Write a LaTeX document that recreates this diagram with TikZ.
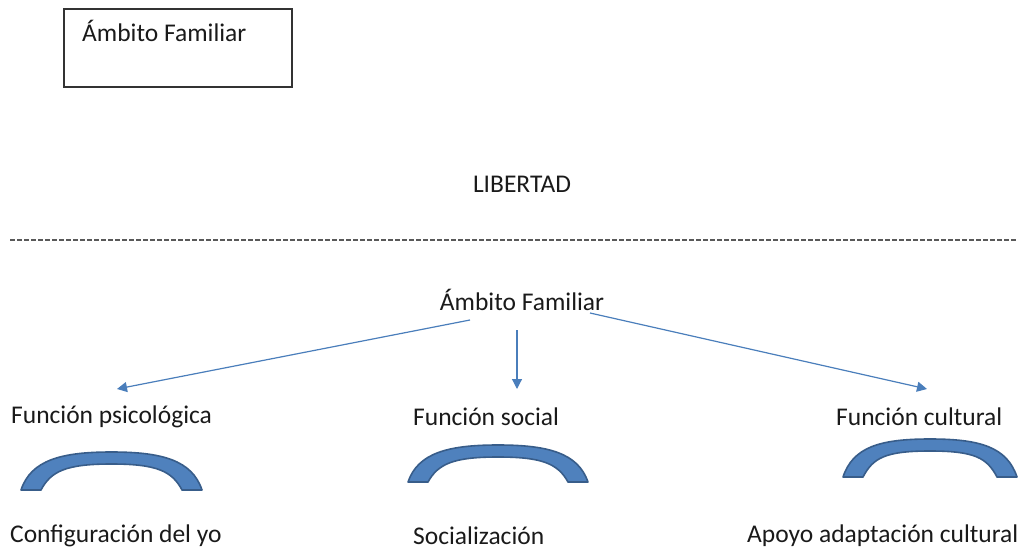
\documentclass[tikz,border=0pt]{standalone}
\usepackage{fontspec}
\setmainfont{Carlito}
\usetikzlibrary{arrows.meta}
\definecolor{arcfill}{HTML}{4F81BD}
\definecolor{arcline}{HTML}{385D8A}
\definecolor{arrowc}{HTML}{4A7EBB}
\definecolor{txt}{HTML}{1A1A1A}
\tikzset{
  lbl/.style={font=\fontsize{25.5}{30}\selectfont, text=txt, inner sep=0pt},
  conn/.style={draw=arrowc, line width=1.2pt, -{Triangle[length=10pt,width=10pt]}},
  arcshape/.style={fill=arcfill, draw=arcline, line width=1.6pt, line join=round}
}
\newcommand{\blockarc}[4]{% x0 x1 ytop ybottom
  \pgfmathsetmacro{\xa}{#1}\pgfmathsetmacro{\xb}{#2}
  \pgfmathsetmacro{\yt}{#3}\pgfmathsetmacro{\yb}{#4}
  \pgfmathsetmacro{\xc}{(\xa+\xb)/2}
  \path[arcshape] (\xa,\yb) .. controls (\xa+10,\yt+8) and (\xc-50,\yt) .. (\xc,\yt)
    .. controls (\xc+50,\yt) and (\xb-10,\yt+8) .. (\xb,\yb)
    -- (\xb-20,\yb) .. controls (\xb-30,\yt+19) and (\xc+45,\yt+12) .. (\xc,\yt+12)
    .. controls (\xc-45,\yt+12) and (\xa+30,\yt+19) .. (\xa+20,\yb) -- cycle;
}
\begin{document}
\begin{tikzpicture}[x=1pt,y=-1pt]
\useasboundingbox (0,0) rectangle (1018,556);
\node[draw=black!80, line width=1.2pt, minimum width=228pt, minimum height=78pt, inner sep=0pt] (box) at (178,48) {};
\node[lbl, anchor=base west] (boxtxt) at (82,42) {Ámbito Familiar};
\node[lbl] (lib) at (522,184) {LIBERTAD};
\coordinate (dl) at (10,240);
\coordinate (dr) at (1018,240);
\draw[black!65, line width=1.3pt, dash pattern=on 5pt off 2pt] (dl) -- (dr);
\node[lbl] (amb) at (522,300) {Ámbito Familiar};
\node[lbl, anchor=west] (fp) at (11,417) {Función psicológica};
\node[lbl, anchor=west] (fs) at (413,417) {Función social};
\node[lbl, anchor=west] (fc) at (836,417) {Función cultural};
\coordinate (a1) at (470,320); \coordinate (t1) at (117,389);
\coordinate (a2) at (517,330); \coordinate (t2) at (517,389);
\coordinate (a3) at (590,313); \coordinate (t3) at (927,389);
\draw[conn] (a1) -- (t1);
\draw[conn] (a2) -- (t2);
\draw[conn] (a3) -- (t3);
\blockarc{21}{202}{452}{490}
\blockarc{408}{588}{445}{482}
\blockarc{843}{1017}{439}{477}
\node[lbl, anchor=west] (c1) at (10,536) {Configuración del yo};
\node[lbl, anchor=west] (c2) at (413,536) {Socialización};
\node[lbl, anchor=west] (c3) at (747,536) {Apoyo adaptación cultural};
\end{tikzpicture}
\end{document}
